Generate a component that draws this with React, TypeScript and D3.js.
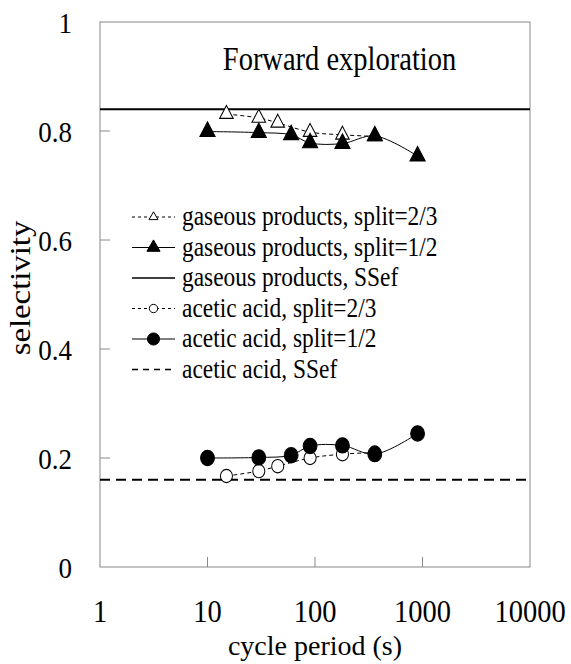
import * as d3 from "d3";

const xTicks = [1, 10, 100, 1000, 10000];
const yTicks = [0, 0.2, 0.4, 0.6, 0.8, 1];

// gaseous products
const gasX23 = [15, 30, 45, 90, 180, 360];
const gasY23 = [0.831, 0.824, 0.815, 0.798, 0.793, 0.79];
const gasX12 = [10, 30, 60, 90, 180, 360, 900];
const gasY12 = [0.799, 0.797, 0.793, 0.778, 0.777, 0.791, 0.754];
const gasSSef = 0.84;

// acetic acid
const aceX23 = [15, 30, 45, 90, 180, 360];
const aceY23 = [0.167, 0.176, 0.185, 0.2, 0.207, 0.21];
const aceX12 = [10, 30, 60, 90, 180, 360, 900];
const aceY12 = [0.2, 0.201, 0.205, 0.222, 0.223, 0.207, 0.245];
const aceSSef = 0.16;

const legendLabels = [
  "gaseous products, split=2/3",
  "gaseous products, split=1/2",
  "gaseous products, SSef",
  "acetic acid, split=2/3",
  "acetic acid, split=1/2",
  "acetic acid, SSef",
];

const W = 571;
const H = 664;
const m = { left: 100, right: 41, top: 22, bottom: 97 };
const font = "'Liberation Serif', 'Times New Roman', serif";
const FS = 28.5; // axis / title text
const SY = 1.15; // the original is stretched a little vertically

// text drawn with a vertical stretch, positioned at its baseline
function Txt(props: { x: number; y: number; size?: number; sy?: number; anchor?: string; dy?: string; children: any }) {
  const { x, y, size = FS, sy = SY, anchor = "start", dy = "0", children } = props;
  return (
    <g transform={`translate(${x},${y}) scale(1,${sy})`}>
      <text x={0} y={0} dy={dy} textAnchor={anchor} fontSize={size}>
        {children}
      </text>
    </g>
  );
}

export default function App() {
  const x = d3.scaleLog().domain([1, 10000]).range([m.left, W - m.right]);
  const y = d3.scaleLinear().domain([0, 1]).range([H - m.bottom, m.top]);

  const line = d3
    .line<[number, number]>()
    .x((d) => x(d[0]))
    .y((d) => y(d[1]))
    .curve(d3.curveCatmullRom.alpha(0.5));

  const zip = (xs: number[], ys: number[]) =>
    xs.map((v, i) => [v, ys[i]] as [number, number]);

  const tri = d3.symbol(d3.symbolTriangle, 100)();
  const triOpen = d3.symbol(d3.symbolTriangle, 80)();
  const circ = d3.symbol(d3.symbolCircle, 150)();
  const circOpen = d3.symbol(d3.symbolCircle, 115)();

  const series = [
    { data: zip(gasX23, gasY23), dash: "4,3", sym: triOpen, fill: "white" },
    { data: zip(aceX23, aceY23), dash: "4,3", sym: circOpen, fill: "white" },
    { data: zip(gasX12, gasY12), dash: "", sym: tri, fill: "black" },
    { data: zip(aceX12, aceY12), dash: "", sym: circ, fill: "black" },
  ];

  const x0 = m.left;
  const x1 = W - m.right;
  const yb = H - m.bottom;

  const lgX = 132;
  const lgY0 = 217;
  const lgDy = 30.5;
  const legendItems = [
    { dash: "3,3", sym: d3.symbol(d3.symbolTriangle, 35)(), fill: "white", w: 1 },
    { dash: "", sym: d3.symbol(d3.symbolTriangle, 75)(), fill: "black", w: 1.2 },
    { dash: "", sym: null, fill: "", w: 1.5 },
    { dash: "3,3", sym: d3.symbol(d3.symbolCircle, 55)(), fill: "white", w: 1 },
    { dash: "", sym: d3.symbol(d3.symbolCircle, 115)(), fill: "black", w: 1.2 },
    { dash: "6,5", sym: null, fill: "", w: 1.5 },
  ];

  return (
    <svg
      width={W}
      height={H}
      style={{ position: "absolute", left: 0, top: 0, background: "white" }}
      fontFamily={font}
    >
      <rect x={0} y={0} width={W} height={H} fill="white" />
      {/* frame */}
      <rect x={x0} y={m.top} width={x1 - x0} height={yb - m.top} fill="none" stroke="#888" strokeWidth={1} />

      {/* y ticks */}
      {yTicks.map((t) => (
        <g key={"y" + t}>
          {t > 0 && t < 1 && <line x1={x0} x2={x0 + 10} y1={y(t)} y2={y(t)} stroke="#888" />}
          <Txt x={72} y={y(t) + 1} size={27} sy={1.1} anchor="end" dy="0.34em">
            {t === 0 || t === 1 ? String(t) : t.toFixed(1)}
          </Txt>
        </g>
      ))}

      {/* x ticks */}
      {xTicks.map((t) => (
        <g key={"x" + t}>
          {t > 1 && t < 10000 && <line x1={x(t)} x2={x(t)} y1={yb} y2={yb - 10} stroke="#888" />}
          <Txt x={x(t)} y={622} size={28.5} sy={1.08} anchor="middle">
            {t}
          </Txt>
        </g>
      ))}

      <Txt x={(x0 + x1) / 2} y={655} size={28} sy={1.0} anchor="middle">
        cycle period (s)
      </Txt>
      <g transform={`translate(21,288) scale(1,${SY}) rotate(-90)`}>
        <text x={0} y={0} dy="0.3em" textAnchor="middle" fontSize={FS}>
          selectivity
        </text>
      </g>

      <Txt x={339.5} y={70} anchor="middle">
        Forward exploration
      </Txt>

      {/* steady-state reference lines */}
      <line x1={x0} x2={x1} y1={y(gasSSef)} y2={y(gasSSef)} stroke="black" strokeWidth={2} />
      <line x1={x0} x2={x1} y1={y(aceSSef)} y2={y(aceSSef)} stroke="black" strokeWidth={2} strokeDasharray="10,6" />

      {series.map((s, i) => (
        <g key={"s" + i}>
          <path d={line(s.data) || ""} fill="none" stroke="black" strokeWidth={1} strokeDasharray={s.dash} />
          {s.data.map((d, j) => (
            <path
              key={j}
              d={s.sym || ""}
              transform={`translate(${x(d[0])},${y(d[1])}) scale(1,1.1)`}
              fill={s.fill}
              stroke="black"
              strokeWidth={1}
            />
          ))}
        </g>
      ))}

      {/* legend */}
      {legendItems.map((it, i) => {
        const ly = lgY0 + i * lgDy;
        return (
          <g key={"l" + i}>
            <line x1={lgX} x2={lgX + 43} y1={ly} y2={ly} stroke="black" strokeWidth={it.w} strokeDasharray={it.dash} />
            {it.sym && (
              <path d={it.sym} transform={`translate(${lgX + 21.5},${ly})`} fill={it.fill} stroke="black" strokeWidth={1} />
            )}
            <Txt x={182} y={ly + 8} size={23.4} sy={1.2}>
              {legendLabels[i]}
            </Txt>
          </g>
        );
      })}
    </svg>
  );
}
